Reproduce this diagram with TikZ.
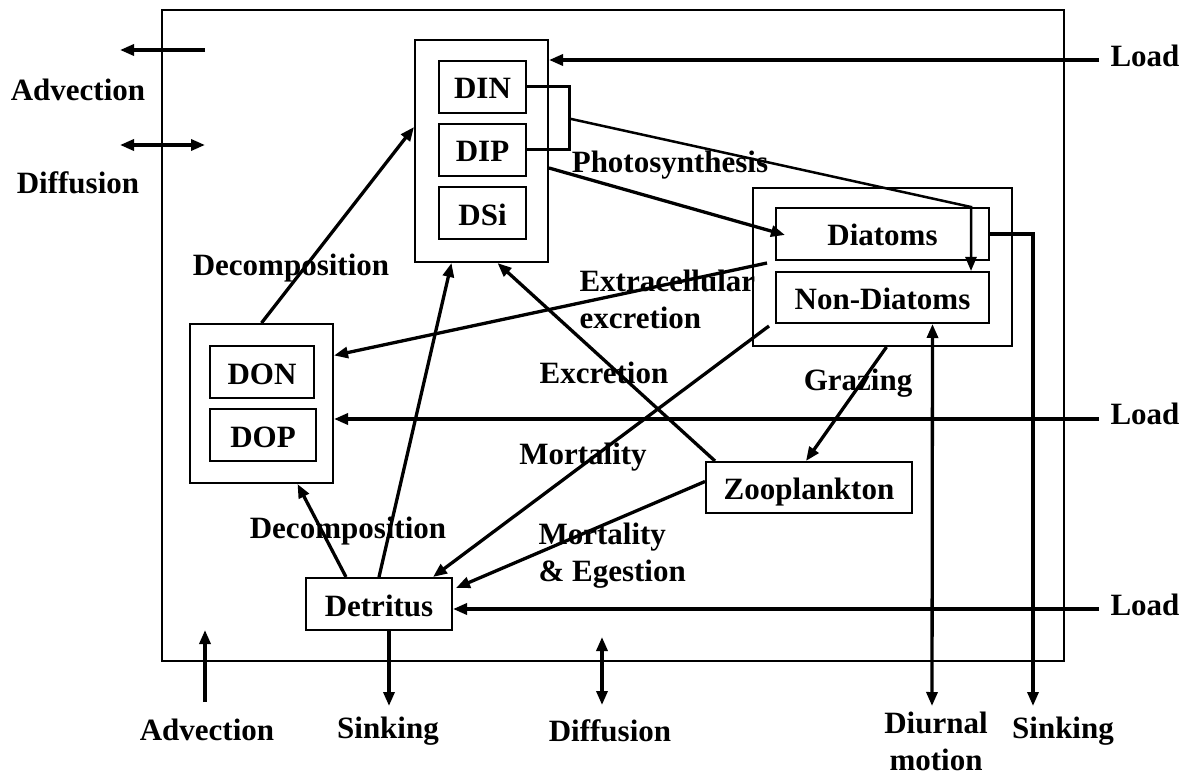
\documentclass[tikz,border=0pt]{standalone}
\usepackage{fontspec}
\setmainfont{Liberation Serif}
\usetikzlibrary{arrows.meta,calc}

\begin{document}
\begin{tikzpicture}[x=1pt,y=-1pt,>={Triangle[length=14pt,width=11pt]},
    font=\fontsize{31}{37}\selectfont\bfseries,
    box/.style={draw,line width=2pt,inner sep=0pt,minimum height=52,text height=24pt,text depth=0pt},
    flow/.style={->,line width=3.3pt}]
        \useasboundingbox (0,0) rectangle (1192,778);
        \draw[line width=2pt] (162,10) rectangle (1064,661);
        \node[box,minimum width=133,minimum height=222] (nut) at (481.5,151) {};
        \node[box,minimum width=87] (DIN) at (482.5,87) {DIN};
        \node[box,minimum width=87] (DIP) at (482.5,150) {DIP};
        \node[box,minimum width=87] (DSi) at (482.5,213.5) {DSi};
        \node[box,minimum width=259,minimum height=158] (phy) at (882.5,267) {};
        \node[box,minimum width=213] (dia) at (882.5,234) {Diatoms};
        \node[box,minimum width=213,minimum height=51] (nondia) at (882.5,297.5) {Non-Diatoms};
        \node[box,minimum width=143,minimum height=159] (dom) at (261.5,403.5) {};
        \node[box,minimum width=104] (DON) at (262,372) {DON};
        \node[box,minimum width=106] (DOP) at (263,435) {DOP};
        \node[box,minimum width=146] (det) at (379,604) {Detritus};
        \node[box,minimum width=206,minimum height=51] (zoo) at (809,487.5) {Zooplankton};
        \node (advL) at (78,90) {Advection};
        \node (diffL) at (78,183) {Diffusion};
        \node (load1) at (1145,56) {Load};
        \node (load2) at (1145,414) {Load};
        \node (load3) at (1145,605) {Load};
        \node (photo) at (670,165) {Photosynthesis};
        \node[anchor=west,align=left] (extra) at (576,299) {Extracellular\\excretion};
        \node (decomp1) at (291,268) {Decomposition};
        \node (excr) at (604,373) {Excretion};
        \node (graz) at (858,383) {Grazing};
        \node (mort) at (583,457) {Mortality};
        \node (decomp2) at (348,531) {Decomposition};
        \node[anchor=west,align=left] (morteg) at (535,556) {Mortality\\\& Egestion};
        \node (advB) at (207,730) {Advection};
        \node (sinkB) at (388,731) {Sinking};
        \node (diffB) at (610,731) {Diffusion};
        \node[align=center] (diur) at (936,741) {Diurnal\\motion};
        \node (sinkR) at (1063,731) {Sinking};
        \coordinate (brk) at ($(DIN.east)!0.5!(DIP.east)+(42,0)$);
        \coordinate (bend) at ($(dia.north east)+(-19,0)$);
        \coordinate (sinkRtip) at (1033,706);
        \coordinate (diurtip) at (932,706);
        \coordinate (sinkBtip) at (389,706);
        \coordinate (advBfoot) at (205,702);
        \coordinate (advBtip) at (205,630);
        \coordinate (diffBtop) at (602,637);
        \coordinate (diffBfoot) at (602,705);
        \coordinate (advLin) at (205,50);
        \coordinate (advLout) at (120,50);
        \coordinate (diffLin) at (205,145);
        \coordinate (diffLout) at (120,145);
        \draw[line width=3pt] (DIN.east) -- ++(42,0) |- (DIP.east);
        \draw[->,line width=2.5pt] (brk) -- (bend) -- (bend |- nondia.north);
        \draw[flow] (dia.east) -| (sinkRtip);
        \draw[flow] ($(nut.east)+(0,17)$) -- ($(dia.west)+(10,1)$);
        \draw[flow] ($(dia.south west)+(-8,2)$) -- ($(dom.east)+(0,-48)$);
        \draw[flow] ($(load1.west)+(-8,4)$) -- ($(load1.west -| nut.east)+(0,4)$);
        \draw[flow] ($(load2.west)+(-8,5)$) -- ($(load2.west -| dom.east)+(0,5)$);
        \draw[flow] ($(load3.west)+(-8,4)$) -- ($(load3.west -| det.east)+(0,4)$);
        \draw[flow] (dom.north) -- ($(nut.west)+(0,-24)$);
        \draw[flow] ($(det.north)+(-33,0)$) -- ($(dom.south)+(36,0)$);
        \draw[flow] (det.north) -- ($(nut.south)+(-30,0)$);
        \draw[flow] ($(zoo.north west)+(10,0)$) -- ($(nut.south)+(16,0)$);
        \draw[flow] ($(phy.south)+(4,0)$) -- ($(zoo.north)+(-3,0)$);
        \draw[flow] ($(nondia.south west)+(-6,2)$) -- ($(det.north east)+(-20,0)$);
        \draw[flow] ($(zoo.west)+(0,-6)$) -- ($(det.east)+(3,-16)$);
        \draw[flow,<->] ($(nondia.south)+(50,0)$) -- (diurtip);
        \draw[flow] ($(det.south)+(10,0)$) -- (sinkBtip);
        \draw[flow] (advBfoot) -- (advBtip);
        \draw[flow,<->] (diffBfoot) -- (diffBtop);
        \draw[flow] (advLin) -- (advLout);
        \draw[flow,<->] (diffLout) -- (diffLin);
    \end{tikzpicture}
\end{document}
